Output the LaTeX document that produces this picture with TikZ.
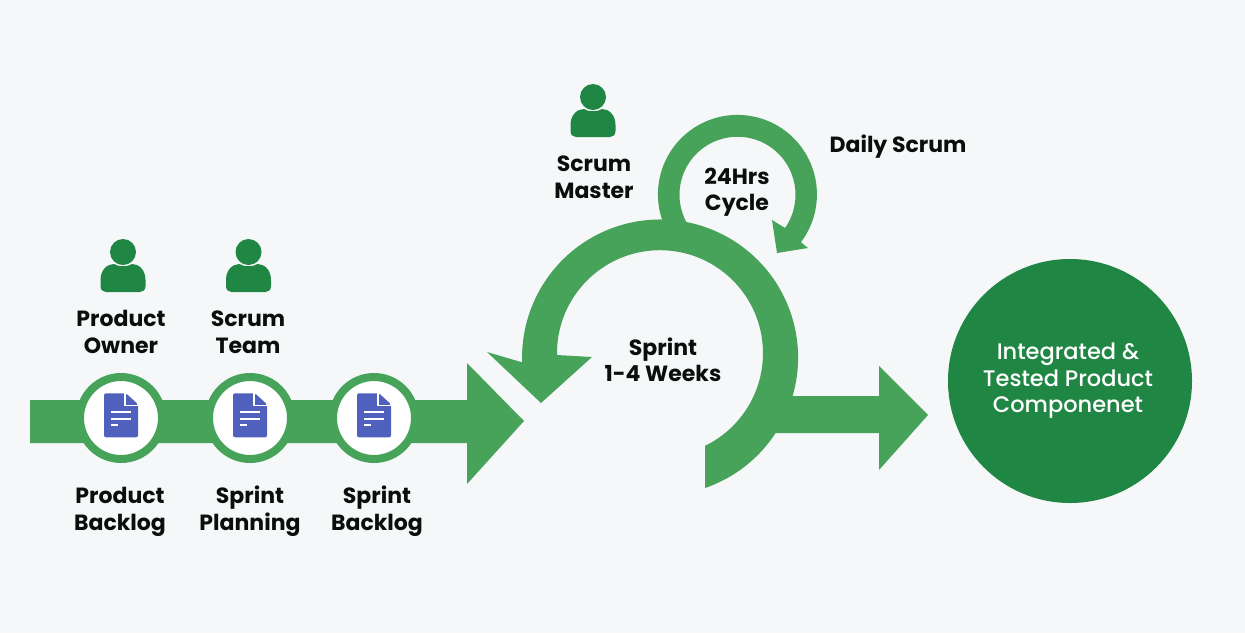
\documentclass[tikz,border=0pt]{standalone}
\usepackage{fontspec}
\setmainfont{Poppins}[BoldFont={Poppins Bold}]
\newfontfamily\medfont{Poppins Medium}
\definecolor{bgc}{HTML}{F5F7F9}
\definecolor{arrowg}{HTML}{48A35A}
\definecolor{darkg}{HTML}{1F8644}
\definecolor{docb}{HTML}{5060BD}
\definecolor{inkc}{HTML}{0B0F0C}
\tikzset{
  x=1pt,y=-1pt,
  flow/.style={fill=arrowg,draw=none},
  lab/.style={align=center,font=\fontsize{22}{26.5}\selectfont\bfseries,text=inkc,inner sep=0pt},
  ring/.style={circle,fill=white,draw=arrowg,line width=8pt,minimum size=82pt,inner sep=0pt},
  usr/.pic={
    \fill[darkg] (0,0) circle[radius=13];
    \fill[darkg] (-22.5,34) -- (-22.5,28) .. controls (-22.5,18) and (-16,12) .. (-9,12)
      .. controls (-5,15) and (5,15) .. (9,12)
      .. controls (16,12) and (22.5,18) .. (22.5,28) -- (22.5,34)
      .. controls (22.5,38) and (20,40) .. (17,40) -- (-17,40)
      .. controls (-20,40) and (-22.5,38) .. (-22.5,34) -- cycle;
  },
  docu/.pic={
    \fill[docb,rounded corners=2pt] (-17,-22) -- (5,-22) -- (17,-11) -- (17,22) -- (-17,22) -- cycle;
    \draw[white,line width=1.2pt] (4,-23) -- (4,-10) -- (18,-10);
    \draw[white,line width=1.8pt] (-10,-3) -- (9.5,-3) (-10,3.4) -- (9.5,3.4) (-10,10) -- (-3,10);
  }
}
\begin{document}
\begin{tikzpicture}
\useasboundingbox (0,0) rectangle (1245,633);
\fill[bgc] (0,0) rectangle (1245,633);
% main arrow
\fill[flow] (30,400) -- (467,400) -- (467,363) -- (524,421) -- (467,484) -- (467,443) -- (30,443) -- cycle;
% exit arrow
\fill[flow] (770,396) -- (879,396) -- (879,366) -- (928,415) -- (879,470) -- (879,433) -- (770,433) -- cycle;
% sprint arc
\fill[flow] (705,488) arc[start angle=71,end angle=-182,radius=138] -- (487,352) -- (541,403) -- (592,357) -- (557,355) arc[start angle=-181,end angle=64,radius=103] -- cycle;
% daily arc
\fill[flow] (665.4,228) arc[start angle=155,end angle=397,radius=79.5] -- (808,248) -- (777,253) -- (772,220) -- (785,228) arc[start angle=35,end angle=-215,radius=58] -- cycle;
% rings
\node[ring] (r1) at (121,418) {};
\node[ring] (r2) at (250,418) {};
\node[ring] (r3) at (374,418) {};
\pic at (121,415.3) {docu};
\pic at (250,415.3) {docu};
\pic at (374,415.3) {docu};
\pic at (123,252) {usr};
\pic at (248.5,252) {usr};
\pic at (593,97) {usr};
% labels
\node[lab] (po) at (121,332) {Product\\Owner};
\node[lab] (st) at (248,332) {Scrum\\Team};
\node[lab] (pb) at (120,512) {Product\\Backlog};
\node[lab] (sp) at (250,511) {Sprint\\Planning};
\node[lab] (sb) at (377,511) {Sprint\\Backlog};
\node[lab] (sm) at (594,177) {Scrum\\Master};
\node[lab] (cy) at (737,192) {24Hrs\\Cycle};
\node[lab] (ds) at (898,147) {Daily Scrum};
\node[lab] (sw) at (663,360) {Sprint\\1-4 Weeks};
% product
\node[circle,fill=darkg,minimum size=244pt,inner sep=0pt] (ip) at (1070,381) {};
\node[align=center,text=white,font=\medfont\fontsize{22.5}{26.5}\selectfont,inner sep=0pt] (ipt) at (1068,381) {Integrated \&\\Tested Product\\Componenet};
\end{tikzpicture}
\end{document}
